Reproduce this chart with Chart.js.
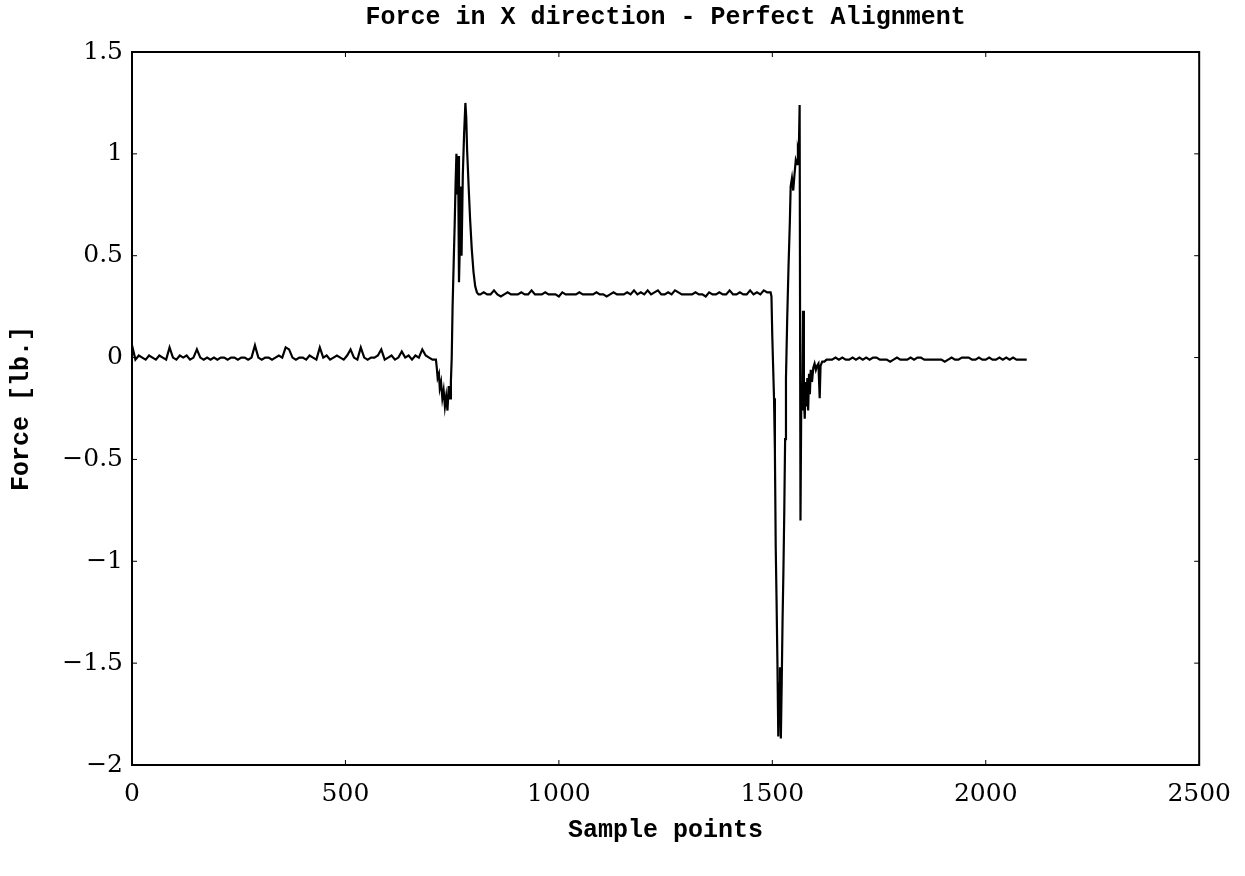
<!DOCTYPE html>
<html>
<head>
<meta charset="utf-8">
<title>Force in X direction</title>
<script src="https://cdn.jsdelivr.net/npm/chart.js@4/dist/chart.umd.min.js"></script>
<style>
  html, body { margin: 0; padding: 0; background: #fff; }
  #force-chart { display: block; }
</style>
</head>
<body>
<canvas id="force-chart" width="1245" height="876"></canvas>
<script>
// Force sensor trace, x component, sampled at regular points

// quiet start, before contact (samples 0..704, every 8th)
const restStart = 0;
const restStep = 8;
const restForce = [
    0.06, -0.01, 0.01, 0.00, -0.01, 0.01, 0.00, -0.01, 0.01, 0.00,
    -0.01, 0.05, 0.00, -0.01, 0.01, 0.00, 0.01, -0.01, 0.00, 0.04,
    0.00, -0.01, 0.00, -0.01, 0.00, -0.01, 0.00, 0.00, -0.01, 0.00,
    0.00, -0.01, 0.00, 0.00, -0.01, 0.00, 0.06, 0.00, -0.01, 0.00,
    0.00, -0.01, 0.00, 0.01, 0.00, 0.05, 0.04, 0.00, -0.01, 0.00,
    0.00, -0.01, 0.01, 0.00, -0.01, 0.05, 0.00, 0.01, -0.01, 0.00,
    0.01, 0.00, -0.01, 0.01, 0.04, 0.00, -0.01, 0.05, 0.00, -0.01,
    0.00, 0.00, 0.01, 0.04, -0.01, 0.00, 0.01, -0.01, 0.00, 0.03,
    0.00, 0.01, -0.01, 0.01, 0.00, 0.04, 0.01, 0.00, -0.01
];

// first contact transient
const insertSamples = [712, 714, 716, 719, 721, 724, 727, 730, 733, 736, 739, 742, 745, 747, 749,
    751, 754, 756, 758, 760, 762, 764, 766, 768, 770, 772, 775, 778, 781, 783, 785,
    789, 792, 796, 800, 804, 808, 812];
const insertForce = [-0.01, -0.05, -0.10, -0.08, -0.15, -0.12, -0.20, -0.16, -0.24, -0.19, -0.26, -0.14, -0.20, -0.12, 0.00,
    0.25, 0.50, 0.66, 0.85, 1.00, 0.80, 0.99, 0.37, 0.55, 0.84, 0.50, 0.90, 1.10, 1.25, 1.18, 1.02,
    0.82, 0.68, 0.53, 0.42, 0.35, 0.32, 0.31];

// held plateau (samples 816..1496, every 8th)
const holdStart = 816;
const holdStep = 8;
const holdForce = [
    0.31, 0.32, 0.31, 0.31, 0.33, 0.31, 0.30, 0.31, 0.32, 0.31,
    0.31, 0.31, 0.32, 0.31, 0.31, 0.33, 0.31, 0.31, 0.31, 0.32,
    0.31, 0.31, 0.31, 0.30, 0.32, 0.31, 0.31, 0.31, 0.31, 0.32,
    0.31, 0.31, 0.31, 0.31, 0.32, 0.31, 0.31, 0.30, 0.31, 0.32,
    0.31, 0.31, 0.31, 0.32, 0.31, 0.33, 0.31, 0.32, 0.31, 0.33,
    0.31, 0.32, 0.33, 0.31, 0.31, 0.32, 0.31, 0.33, 0.32, 0.31,
    0.31, 0.31, 0.31, 0.32, 0.31, 0.31, 0.30, 0.32, 0.31, 0.31,
    0.32, 0.31, 0.31, 0.33, 0.31, 0.31, 0.32, 0.31, 0.31, 0.33,
    0.31, 0.32, 0.31, 0.33, 0.32, 0.32
];

// release transient
const releaseSamples = [1498, 1500, 1502, 1504, 1506, 1508, 1510, 1512, 1514, 1516, 1518, 1520, 1522, 1524,
    1526, 1528, 1530, 1532, 1535, 1538, 1541, 1543, 1546, 1549, 1552, 1555, 1558, 1560, 1562, 1564,
    1566, 1568, 1570, 1572, 1574, 1576, 1578, 1580, 1582, 1584, 1586, 1588, 1590, 1593, 1596, 1599,
    1602, 1605, 1608, 1611, 1613, 1617, 1622, 1627];
const releaseForce = [0.30, 0.10, -0.05, -0.20, -0.45, -0.93, -1.20, -1.50, -1.86, -1.60, -1.52, -1.87, -1.60, -1.29,
    -1.05, -0.76, -0.40, -0.10, 0.20, 0.45, 0.66, 0.84, 0.88, 0.82, 0.90, 0.97, 0.95, 1.02, 1.00, 1.24,
    -0.80, -0.15, -0.26, 0.23, -0.20, -0.30, -0.12, -0.24, -0.10, -0.26, -0.08, -0.18, -0.06, -0.12, -0.05, -0.03,
    -0.06, -0.04, -0.03, -0.20, -0.04, -0.02, -0.02, -0.01];

// free again after release (samples 1632..2096, every 8th)
const freeStart = 1632;
const freeStep = 8;
const freeForce = [
    -0.01, -0.01, 0.00, -0.01, 0.00, -0.01, -0.01, 0.00, -0.01, 0.00,
    -0.01, 0.00, -0.01, 0.00, 0.00, -0.01, -0.01, -0.01, -0.02, -0.01,
    0.00, -0.01, -0.01, -0.01, 0.00, -0.01, 0.00, 0.00, -0.01, -0.01,
    -0.01, -0.01, -0.01, -0.01, -0.02, -0.01, 0.00, -0.01, -0.01, 0.00,
    0.00, 0.00, -0.01, -0.01, 0.00, -0.01, -0.01, 0.00, -0.01, -0.01,
    0.00, -0.01, 0.00, -0.01, 0.00, -0.01, -0.01, -0.01, -0.01
];

const xTicks = [0, 500, 1000, 1500, 2000, 2500];
const yTicks = [-2, -1.5, -1, -0.5, 0, 0.5, 1, 1.5];

function evenPoints(start, step, values) {
    return values.map((v, i) => ({ x: start + i * step, y: v }));
}
function pairedPoints(xs, ys) {
    return xs.map((x, i) => ({ x: x, y: ys[i] }));
}

const trace = [].concat(
    evenPoints(restStart, restStep, restForce),
    pairedPoints(insertSamples, insertForce),
    evenPoints(holdStart, holdStep, holdForce),
    pairedPoints(releaseSamples, releaseForce),
    evenPoints(freeStart, freeStep, freeForce)
);

const minus = s => String(s).replace('-', '\u2212');

// closed box with short inward tick marks on all four sides
const boxPlugin = {
    id: 'box',
    afterDatasetsDraw(chart) {
        const { ctx, chartArea: a, scales } = chart;
        const len = 5;
        ctx.save();
        ctx.strokeStyle = '#000';
        ctx.lineWidth = 2;
        ctx.strokeRect(a.left, a.top, a.right - a.left, a.bottom - a.top);
        ctx.lineWidth = 1;
        ctx.beginPath();
        xTicks.forEach(v => {
            const px = scales.x.getPixelForValue(v);
            ctx.moveTo(px, a.bottom); ctx.lineTo(px, a.bottom - len);
            ctx.moveTo(px, a.top); ctx.lineTo(px, a.top + len);
        });
        yTicks.forEach(v => {
            const py = scales.y.getPixelForValue(v);
            ctx.moveTo(a.left, py); ctx.lineTo(a.left + len, py);
            ctx.moveTo(a.right, py); ctx.lineTo(a.right - len, py);
        });
        ctx.stroke();
        ctx.restore();
    }
};

const labelFont = { family: '"Liberation Mono", "DejaVu Sans Mono", monospace', size: 25, weight: 'bold' };
const tickFont = { family: '"DejaVu Serif", serif', size: 25 };

new Chart(document.getElementById('force-chart'), {
    type: 'line',
    data: {
        datasets: [{
            data: trace,
            borderColor: '#000',
            borderWidth: 2.2,
            pointRadius: 0,
            fill: false,
            tension: 0
        }]
    },
    options: {
        responsive: false,
        animation: false,
        layout: { padding: { left: 0, right: 42, top: 0, bottom: 0 } },
        plugins: {
            legend: { display: false },
            tooltip: { enabled: false },
            title: {
                display: true,
                fullSize: false,
                text: 'Force in X direction - Perfect Alignment',
                color: '#000',
                font: labelFont,
                padding: { top: 3, bottom: 19 }
            }
        },
        scales: {
            x: {
                type: 'linear',
                min: 0,
                max: 2500,
                afterBuildTicks: s => { s.ticks = xTicks.map(v => ({ value: v })); },
                afterFit: s => { s.height = 111; },
                grid: { display: false, drawTicks: false },
                border: { display: false },
                ticks: { color: '#000', font: tickFont, padding: 14, maxRotation: 0, callback: v => minus(v) },
                title: { display: true, text: 'Sample points', color: '#000', font: labelFont, padding: { top: 0, bottom: 30 } }
            },
            y: {
                min: -2,
                max: 1.5,
                afterBuildTicks: s => { s.ticks = yTicks.map(v => ({ value: v })); },
                afterFit: s => { s.width = 132; },
                grid: { display: false, drawTicks: false },
                border: { display: false },
                ticks: { color: '#000', font: tickFont, padding: 9, callback: v => minus(v) },
                title: { display: true, text: 'Force [lb.]', color: '#000', font: labelFont, padding: { top: 7, bottom: 0 } }
            }
        }
    },
    plugins: [boxPlugin]
});
</script>
</body>
</html>
